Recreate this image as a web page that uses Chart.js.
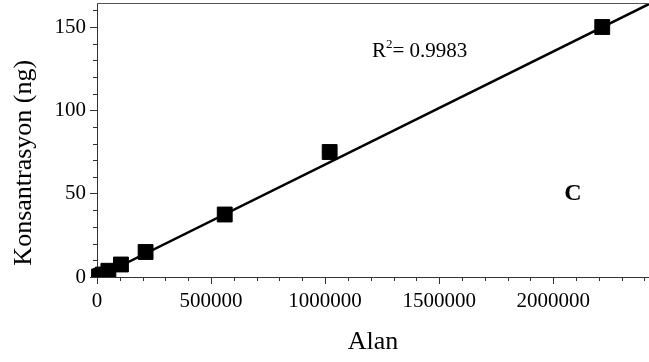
<!DOCTYPE html>
<html>
<head>
<meta charset="utf-8">
<script src="https://cdn.jsdelivr.net/npm/chart.js@4/dist/chart.umd.min.js"></script>
<style>
  html, body { margin: 0; padding: 0; background: #fff; }
  #wrap { width: 649px; height: 362px; position: relative; }
</style>
</head>
<body>
<div id="wrap"><canvas id="chart"></canvas></div>
<script>
// measured points: peak area vs concentration
const alan = [9000, 17000, 26000, 50000, 105000, 213000, 560000, 1020000, 2215000];
const konsantrasyon = [0.3, 0.75, 1.5, 3.75, 7.5, 15, 37.5, 75, 150];

// regression line endpoints
const fitX = [0, 2420000];
const fitY = [-0.3, 163.8];

const r2Label = "0.9983";
const panelLabel = "C";

const xMajor = 500000;
const yMajor = 50;

const FONT = "'Liberation Serif', 'Times New Roman', serif";

const points = alan.map((x, i) => ({ x, y: konsantrasyon[i] }));
const fitLine = fitX.map((x, i) => ({ x, y: fitY[i] }));

function isMajor(v, step) {
  return Math.abs(Math.round(v / step) * step - v) < step * 1e-6;
}

// drop the label padding chart.js reserves, the frame is fixed
function fixBox(s, size) {
  if (s.isHorizontal()) s.height = size; else s.width = size;
  s.paddingTop = 0;
  s.paddingBottom = 0;
  s.paddingLeft = 0;
  s.paddingRight = 0;
}

// minor ticks are shorter than the major ones, draw them ourselves
const minorTicks = {
  id: "minorTicks",
  afterDraw(chart) {
    const ctx = chart.ctx;
    const xs = chart.scales.x, ys = chart.scales.y;
    ctx.save();
    ctx.strokeStyle = "#333";
    ctx.lineWidth = 1;
    xs.ticks.forEach(t => {
      if (isMajor(t.value, xMajor)) return;
      const px = Math.round(xs.getPixelForValue(t.value)) + 0.5;
      ctx.beginPath();
      ctx.moveTo(px, xs.top);
      ctx.lineTo(px, xs.top + 4);
      ctx.stroke();
    });
    ys.ticks.forEach(t => {
      if (isMajor(t.value, yMajor)) return;
      const py = Math.round(ys.getPixelForValue(t.value)) + 0.5;
      ctx.beginPath();
      ctx.moveTo(ys.right, py);
      ctx.lineTo(ys.right - 4, py);
      ctx.stroke();
    });
    // top frame line
    const a = chart.chartArea;
    ctx.strokeStyle = "#555";
    ctx.beginPath();
    ctx.moveTo(a.left, a.top + 0.5);
    ctx.lineTo(a.right, a.top + 0.5);
    ctx.stroke();
    ctx.restore();
  }
};

const annotations = {
  id: "annotations",
  afterDraw(chart) {
    const ctx = chart.ctx;
    ctx.save();
    ctx.fillStyle = "#000";
    ctx.textBaseline = "alphabetic";
    let x = 372, y = 57;
    ctx.font = "21px " + FONT;
    ctx.fillText("R", x, y);
    x += ctx.measureText("R").width;
    ctx.font = "13px " + FONT;
    ctx.fillText("2", x, y - 9);
    x += ctx.measureText("2").width;
    ctx.font = "21px " + FONT;
    ctx.fillText("= " + r2Label, x, y);
    ctx.font = "bold 24px " + FONT;
    ctx.textAlign = "center";
    ctx.fillText(panelLabel, 573, 200);
    ctx.restore();
  }
};

new Chart(document.getElementById("chart"), {
  type: "scatter",
  data: {
    datasets: [
      {
        type: "line",
        data: fitLine,
        borderColor: "#000",
        borderWidth: 2.5,
        pointRadius: 0,
        fill: false,
        tension: 0
      },
      {
        data: points,
        pointStyle: "rect",
        pointRadius: 10.5,
        pointHoverRadius: 10.5,
        backgroundColor: "#000",
        borderColor: "#000",
        borderWidth: 1
      }
    ]
  },
  options: {
    responsive: true,
    maintainAspectRatio: false,
    animation: false,
    events: [],
    layout: { autoPadding: false, padding: { top: 3, left: 0, right: 0, bottom: 0 } },
    plugins: {
      legend: { display: false },
      tooltip: { enabled: false }
    },
    scales: {
      x: {
        type: "linear",
        suggestedMin: 0,
        max: 2420000,
        afterFit: s => fixBox(s, 85),
        ticks: {
          stepSize: 100000,
          autoSkip: false,
          maxRotation: 0,
          includeBounds: false,
          padding: 5,
          color: "#000",
          font: { family: FONT, size: 21 },
          callback: v => (isMajor(v, xMajor) ? String(Math.round(v)) : "")
        },
        grid: {
          drawOnChartArea: false,
          tickLength: 7,
          tickColor: ctx => (ctx.tick && isMajor(ctx.tick.value, xMajor) ? "#333" : "rgba(0,0,0,0)")
        },
        border: { display: true, color: "#333", width: 1 },
        title: {
          display: true,
          text: "Alan",
          color: "#000",
          font: { family: FONT, size: 26 },
          padding: { top: 0, bottom: 4 }
        }
      },
      y: {
        type: "linear",
        min: 0,
        max: 164.4,
        afterFit: s => fixBox(s, 97),
        ticks: {
          stepSize: 10,
          autoSkip: false,
          includeBounds: false,
          padding: 4,
          color: "#000",
          font: { family: FONT, size: 21 },
          callback: v => (isMajor(v, yMajor) ? String(Math.round(v)) : "")
        },
        grid: {
          drawOnChartArea: false,
          tickLength: 7,
          tickColor: ctx => (ctx.tick && isMajor(ctx.tick.value, yMajor) ? "#333" : "rgba(0,0,0,0)")
        },
        border: { display: true, color: "#333", width: 1 },
        title: {
          display: true,
          text: "Konsantrasyon (ng)       ",
          color: "#000",
          font: { family: FONT, size: 26 },
          padding: { top: 9, bottom: 0 }
        }
      }
    }
  },
  plugins: [minorTicks, annotations]
});
</script>
</body>
</html>
